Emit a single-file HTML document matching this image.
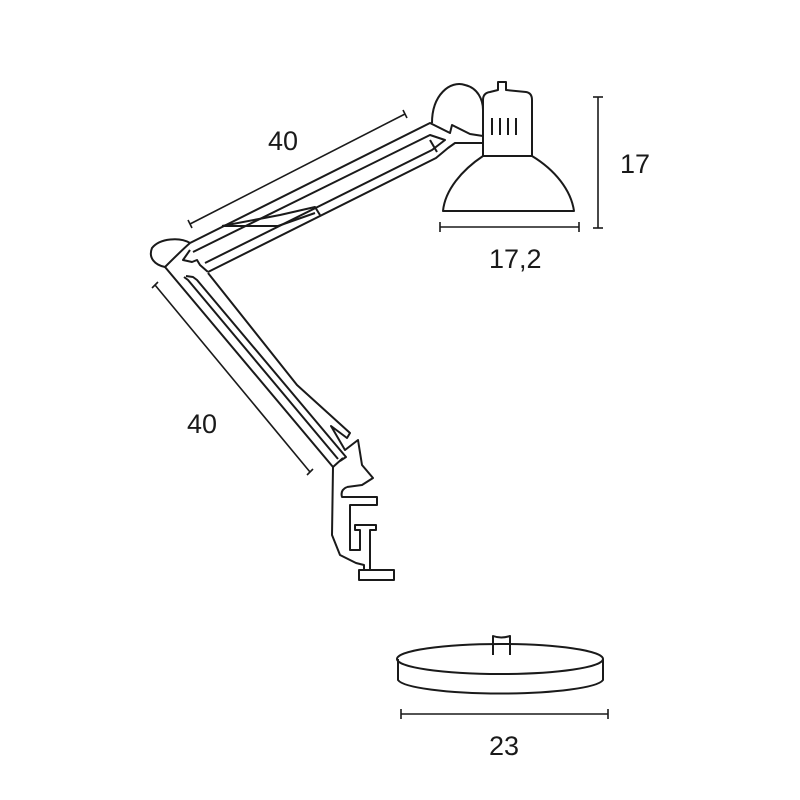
<!DOCTYPE html>
<html><head><style>body{margin:0;background:#fff}svg{display:block}</style></head><body>
<svg width="800" height="800" viewBox="0 0 800 800" xmlns="http://www.w3.org/2000/svg" fill="none" stroke="#1a1a1a" stroke-width="2" stroke-linejoin="round">
<!-- dims -->
<g stroke-width="1.6">
<line x1="190" y1="224" x2="405" y2="114"/><line x1="188" y1="220" x2="192" y2="228"/><line x1="403" y1="110" x2="407" y2="118"/>
<line x1="155" y1="285" x2="310" y2="472"/><line x1="152" y1="288" x2="158" y2="282"/><line x1="307" y1="475" x2="313" y2="469"/>
<line x1="440" y1="227" x2="579" y2="227"/><line x1="440" y1="222" x2="440" y2="232"/><line x1="579" y1="222" x2="579" y2="232"/>
<line x1="598" y1="97" x2="598" y2="228"/><line x1="593" y1="97" x2="603" y2="97"/><line x1="593" y1="228" x2="603" y2="228"/>
<line x1="401" y1="714" x2="608" y2="714"/><line x1="401" y1="709" x2="401" y2="719"/><line x1="608" y1="709" x2="608" y2="719"/>
</g>
<g font-family="Liberation Sans, sans-serif" font-size="27" fill="#1a1a1a" stroke="none">
<text x="268" y="150">40</text><text x="187" y="433">40</text><text x="489" y="268">17,2</text><text x="620" y="173">17</text><text x="489" y="755">23</text>
</g>
<!-- head -->
<path d="M432,123 C432,95 450,80 465,85 C478,88 483,100 483,110"/>
<path d="M483,156 V100 Q483,93 490,92 L498,90 V82 H506 V90 L526,92 Q532,93 532,100 V156 Z"/>
<path d="M492,118V135M500,118V135M508,118V135M516,118V135"/>
<path d="M483,156 C462,170 445,190 443,211 H574 C571,190 555,170 532,156"/>
<!-- upper arm -->
<path d="M190,243 L430,123 L450,133 L452,125 L470,134 L483,136"/>
<path d="M483,143 H455 L448,148 L436,158 L208,272"/>
<path d="M193,252 L430,135 L445,140 L432,150 L205,263"/>
<path d="M222,226 L280,215 L315,207 L320,215 M222,226 L278,226 L315,213"/>
<path d="M430,140 L437,152"/>
<!-- elbow -->
<path d="M190,243 C180,237 160,238 152,248 C148,258 155,265 165,267 C170,262 182,250 190,243"/>
<path d="M190,250 L183,260 L192,262 L197,260 L200,265 L208,272"/>
<!-- lower arm -->
<path d="M165,267 L333,467 L343,458"/>
<path d="M184,277 L188,280 L338,459"/>
<path d="M186,276 L193,277 L197,280 L346,457 L340,461"/>
<path d="M208,273 L297,385 L350,433 L347,438 L331,426 L345,450 L358,440 L362,465 L373,478 L362,485 L347,487"/>
<!-- clamp -->
<path d="M333,467 L332,535 L340,555 L356,563 L364,565 V570"/>
<path d="M347,487 Q340,490 342,497 H377 V505 H350 V550 H360 V530 H355 V525 H376 V530 H370 V570"/>
<rect x="359" y="570" width="35" height="10"/>
<!-- base -->
<path d="M398,659 V680 A103,15 0 0 0 603,680 V659"/>
<ellipse cx="500" cy="659" rx="103" ry="15"/>
<path d="M493,655 V636 Q501,639 510,636 V655"/>
</svg>
</body></html>
